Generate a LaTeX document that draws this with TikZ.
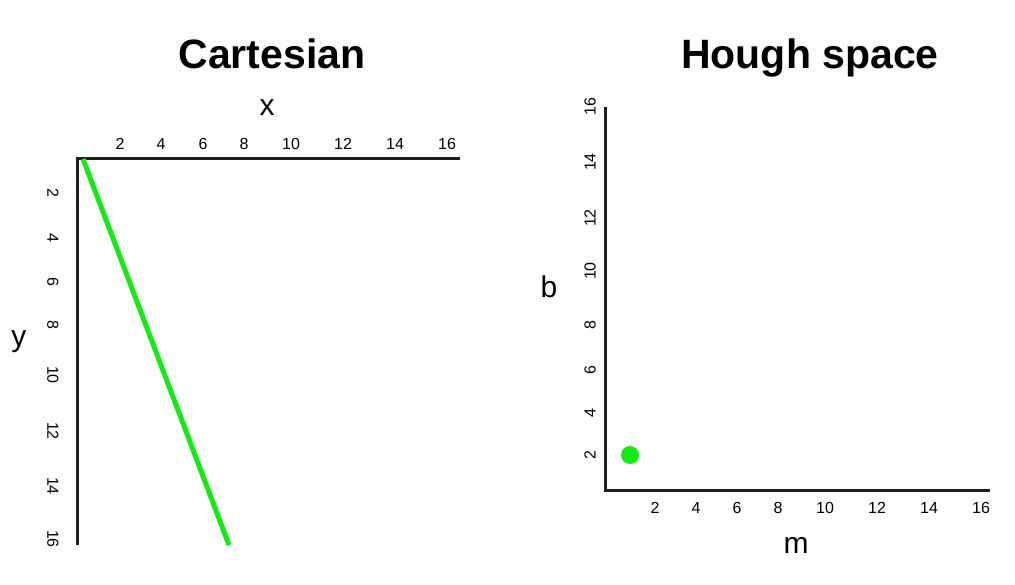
\documentclass[tikz,border=0pt]{standalone}
\usepackage{fontspec}
\setmainfont{Liberation Sans}
\definecolor{lgreen}{RGB}{20,235,20}
\definecolor{axisc}{RGB}{30,30,30}
\begin{document}
\begin{tikzpicture}[x=1pt,y=-1pt,
  title/.style={font=\fontsize{41}{45}\selectfont\bfseries,anchor=base},
  axlabel/.style={font=\fontsize{30}{34}\selectfont},
  tick/.style={font=\fontsize{16}{18}\selectfont},
  axis/.style={draw=axisc,line width=3pt}]
\useasboundingbox (0,0) rectangle (1015,585);
% titles
\node[title] (t1) at (272,69) {Cartesian};
\node[title] (t2) at (810,69) {Hough space};
% Cartesian axes
\coordinate (co) at (77,159);
\coordinate (cx) at (460,159);
\coordinate (cy) at (77,545);
\draw[axis] (cx) -- (co) -- (cy);
\node[axlabel] (lx) at (267,108) {x};
\node[axlabel] (ly) at (19,342) {y};
\foreach \v/\p in {2/120,4/161,6/203,8/244,10/291,12/343,14/395,16/447}
  \node[tick] (cxt\v) at (\p,144) {\v};
\foreach \v/\p in {2/193,4/238,6/282,8/325,10/375,12/431,14/486,16/539}
  \node[tick,rotate=-90] (cyt\v) at (53,\p) {\v};
\coordinate (g1) at (83,159);
\coordinate (g2) at (229,545);
\draw[lgreen,line width=5pt] (g1) -- (g2);
% Hough axes
\coordinate (ho) at (605,490);
\coordinate (hx) at (990,490);
\coordinate (hy) at (605,107);
\draw[axis] (hy) -- (ho) -- (hx);
\node[axlabel] (lb) at (549,287) {b};
\node[axlabel] (lm) at (796,545) {m};
\foreach \v/\p in {2/655,4/696,6/737,8/778,10/825,12/877,14/929,16/981}
  \node[tick] (hxt\v) at (\p,508) {\v};
\foreach \v/\p in {2/455,4/413,6/370,8/325,10/271,12/218,14/162,16/107}
  \node[tick,rotate=90] (hyt\v) at (590,\p) {\v};
\node[circle,fill=lgreen,minimum size=18pt,inner sep=0pt] (dot) at (630,455) {};
\end{tikzpicture}
\end{document}
